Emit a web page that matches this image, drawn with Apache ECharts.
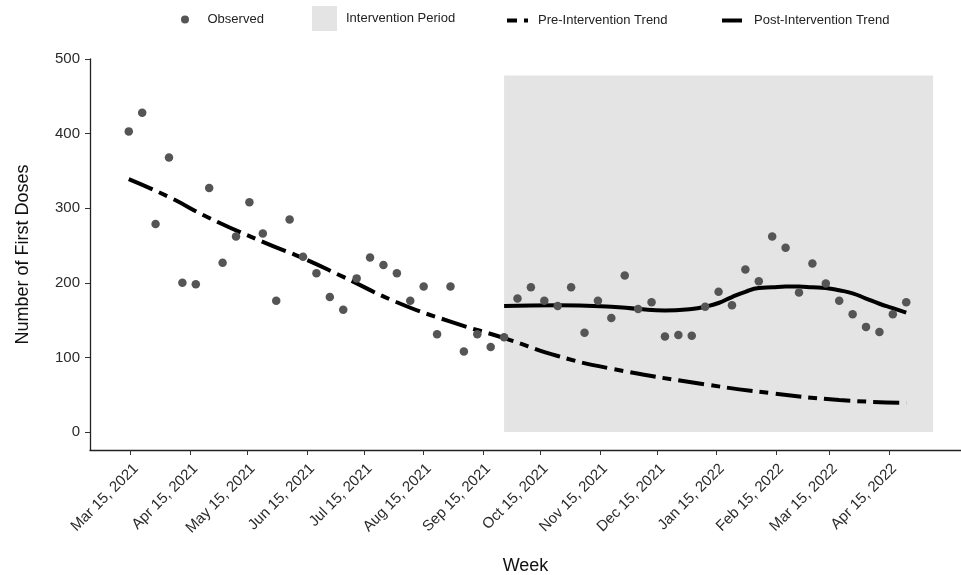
<!DOCTYPE html>
<html>
<head>
<meta charset="utf-8">
<script src="https://cdn.jsdelivr.net/npm/echarts@6/dist/echarts.min.js"></script>
<style>
  html, body { margin: 0; padding: 0; background: #fff; }
  #chart { width: 961px; height: 575px; }
</style>
</head>
<body>
<div id="chart"></div>
<script>
// weekly observations, first week starting Sun Mar 14, 2021
var firstWeek = '2021-03-14';
var observed = [403, 428, 279, 368, 200, 198, 327, 227, 262, 308, 266, 176, 285, 235,
    213, 181, 164, 206, 234, 224, 213, 176, 195, 131, 195, 108, 131, 114,
    127, 179, 194, 176, 169, 194, 133, 176, 153, 210, 165, 174, 128, 130, 129,
    168, 188, 170, 218, 202, 262, 247, 187, 226, 199, 176, 158, 141, 134, 158, 174];

// trend curves (week index -> value)
var preTrendWeeks = [0, 3, 6, 10, 13, 16, 20, 24, 28, 32, 36, 43, 48, 53, 58];
var preTrendValues = [339, 315, 287, 255, 233, 208, 174, 148, 126, 102, 85, 64, 52, 43, 39];
var postTrendWeeks = [28, 32, 36, 38, 40, 42, 43, 44, 45, 46, 47, 48, 49, 50, 51, 52, 53, 54, 55, 56, 57, 58];
var postTrendValues = [169, 170, 168, 165, 163, 165, 168, 173, 181, 188, 193, 194, 195, 195, 194, 193, 190, 186, 179, 172, 166, 160];

// shaded intervention period
var interventionStart = '2021-09-26';
var interventionEnd = '2022-05-08';
var interventionTop = 478;

var xTickDates = ['2021-03-15', '2021-04-15', '2021-05-15', '2021-06-15', '2021-07-15',
    '2021-08-15', '2021-09-15', '2021-10-15', '2021-11-15', '2021-12-15',
    '2022-01-15', '2022-02-15', '2022-03-15', '2022-04-15'];
var yTicks = [0, 100, 200, 300, 400, 500];

var DAY = 86400000;
var months = ['Jan', 'Feb', 'Mar', 'Apr', 'May', 'Jun', 'Jul', 'Aug', 'Sep', 'Oct', 'Nov', 'Dec'];

function toTime(s) {
    var p = s.split('-');
    return Date.UTC(+p[0], +p[1] - 1, +p[2]);
}
function weekTime(i) {
    return toTime(firstWeek) + i * 7 * DAY;
}

var obsData = [];
for (var i = 0; i < observed.length; i++) {
    obsData.push([weekTime(i), observed[i]]);
}
var preData = [];
for (var i = 0; i < preTrendWeeks.length; i++) {
    preData.push([weekTime(preTrendWeeks[i]), preTrendValues[i]]);
}
var postData = [];
for (var i = 0; i < postTrendWeeks.length; i++) {
    postData.push([weekTime(postTrendWeeks[i]), postTrendValues[i]]);
}
var xTicks = xTickDates.map(toTime);

var font = 'Liberation Sans, Arial, sans-serif';
function legendText(pad) {
    return { fontSize: 13, color: '#222', padding: [0, 0, 0, pad] };
}
var chart = echarts.init(document.getElementById('chart'));

var option = {
    animation: false,
    textStyle: { fontFamily: font },
    grid: { left: 90, top: 59, right: 0, bottom: 125, containLabel: false, outerBoundsMode: 'none' },
    legend: [
        { data: [{ name: 'Observed', icon: 'circle' }], left: 176, top: 8,
          itemWidth: 25, itemHeight: 8, textStyle: legendText(5) },
        { data: [{ name: 'Intervention Period', icon: 'rect' }], left: 307, top: 1,
          itemWidth: 25, itemHeight: 25, textStyle: legendText(4) },
        { data: [{ name: 'Pre-Intervention Trend', icon: 'path://M0,0H10V4H0Z M17,0H21V4H17Z' }],
          left: 502, top: 9, itemWidth: 21, itemHeight: 4, textStyle: legendText(5) },
        { data: [{ name: 'Post-Intervention Trend', icon: 'rect' }],
          left: 717, top: 9, itemWidth: 20, itemHeight: 4, textStyle: legendText(7) }
    ],
    xAxis: {
        type: 'value',
        min: toTime('2021-03-15') - 21.25 * DAY,
        max: toTime('2021-03-15') + 433.6 * DAY,
        name: 'Week',
        nameLocation: 'middle',
        nameGap: 107,
        nameTextStyle: { fontSize: 18, color: '#111' },
        splitLine: { show: false },
        axisLine: { show: true, onZero: false, lineStyle: { color: '#222', width: 1.3 } },
        axisTick: { show: true, customValues: xTicks, length: 5, lineStyle: { color: '#333' } },
        axisLabel: {
            customValues: xTicks,
            rotate: 45,
            margin: 11,
            align: 'right',
            verticalAlign: 'top',
            fontSize: 15,
            color: '#2b2b2b',
            formatter: function (v) {
                var d = new Date(v);
                return months[d.getUTCMonth()] + ' ' + d.getUTCDate() + ', ' + d.getUTCFullYear();
            }
        }
    },
    yAxis: {
        type: 'value',
        min: -24,
        max: 500,
        name: 'Number of First Doses',
        nameLocation: 'middle',
        nameGap: 58,
        nameTextStyle: { fontSize: 18, color: '#111' },
        splitLine: { show: false },
        axisLine: { show: true, onZero: false, lineStyle: { color: '#222', width: 1.3 } },
        axisTick: { show: true, customValues: yTicks, length: 5, lineStyle: { color: '#333' } },
        axisLabel: { customValues: yTicks, fontSize: 15, color: '#2b2b2b', margin: 10 }
    },
    series: [
        {
            name: 'Intervention Period',
            type: 'custom',
            silent: true,
            z: 0,
            itemStyle: { color: '#e4e4e4' },
            encode: { x: [0, 1], y: [2, 3] },
            data: [[toTime(interventionStart), toTime(interventionEnd), 0, interventionTop]],
            renderItem: function (params, api) {
                var p0 = api.coord([api.value(0), api.value(2)]);
                var p1 = api.coord([api.value(1), api.value(3)]);
                return {
                    type: 'rect',
                    shape: { x: p0[0], y: p1[1], width: p1[0] - p0[0], height: p0[1] - p1[1] },
                    style: { fill: '#e4e4e4' }
                };
            }
        },
        {
            name: 'Pre-Intervention Trend',
            type: 'line',
            data: preData,
            smooth: true,
            symbol: 'none',
            z: 2,
            itemStyle: { color: '#000' },
            lineStyle: { color: '#000', width: 4, type: [26, 7, 9, 7], cap: 'butt' }
        },
        {
            name: 'Post-Intervention Trend',
            type: 'line',
            data: postData,
            smooth: true,
            symbol: 'none',
            z: 2,
            itemStyle: { color: '#000' },
            lineStyle: { color: '#000', width: 4 }
        },
        {
            name: 'Observed',
            type: 'scatter',
            data: obsData,
            symbolSize: 8.5,
            z: 3,
            itemStyle: { color: '#555', opacity: 1 }
        }
    ]
};

chart.setOption(option);
</script>
</body>
</html>
